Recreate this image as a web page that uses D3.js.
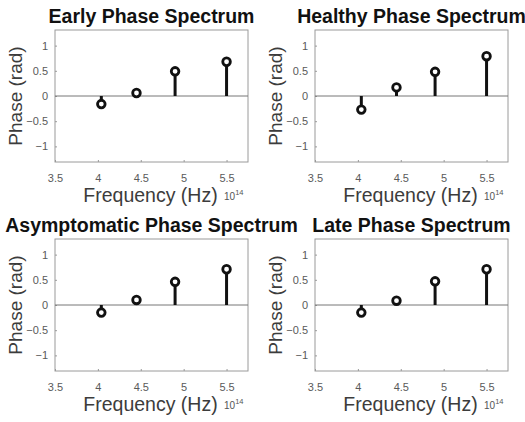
<!DOCTYPE html>
<html><head><meta charset="utf-8">
<script src="https://cdn.jsdelivr.net/npm/d3@7"></script>
<style>html,body{margin:0;padding:0;background:#fff;}svg{display:block;}</style>
</head><body>
<svg id="c" width="525" height="422"></svg>
<script>
const titles = ["Early Phase Spectrum", "Healthy Phase Spectrum", "Asymptomatic Phase Spectrum", "Late Phase Spectrum"];
const freqs = [4.04, 4.45, 4.9, 5.5]; // x 10^14 Hz
const earlyPhase = [-0.16, 0.06, 0.49, 0.68];
const healthyPhase = [-0.27, 0.17, 0.48, 0.79];
const asymptomaticPhase = [-0.15, 0.10, 0.46, 0.71];
const latePhase = [-0.15, 0.085, 0.47, 0.71];
const xTicks = [3.5, 4, 4.5, 5, 5.5];
const yTicks = [-1, -0.5, 0, 0.5, 1];
const xLabel = "Frequency (Hz)";
const yLabel = "Phase (rad)";

const series = [earlyPhase, healthyPhase, asymptomaticPhase, latePhase];
const panels = [
  {x: 55, y: 30}, {x: 315, y: 30}, {x: 55, y: 239}, {x: 315, y: 239}
];
const W = 193, H = 132;
const svg = d3.select("#c");
const font = "'Liberation Sans', Arial, sans-serif";

panels.forEach((p, i) => {
  const g = svg.append("g").attr("transform", `translate(${p.x},${p.y})`);
  const x = d3.scaleLinear().domain([3.5, 5.75]).range([0, W]);
  const y = d3.scaleLinear().domain([-1.31, 1.31]).range([H, 0]);

  // axes
  const xa = g.append("g").attr("transform", `translate(0,${H})`)
    .call(d3.axisBottom(x).tickValues(xTicks).tickSize(-2).tickPadding(12).tickFormat(d3.format("")));
  const ya = g.append("g")
    .call(d3.axisLeft(y).tickValues(yTicks).tickSize(-2).tickPadding(7).tickFormat(d => d3.format("")(d)));
  [xa, ya].forEach(a => {
    a.select(".domain").remove();
    a.selectAll("line").attr("stroke", "#999");
    a.selectAll("text").attr("fill", "#5a5a5a").style("font-family", font).style("font-size", "11px");
  });
  // box
  g.append("rect").attr("x", 0).attr("y", 0).attr("width", W).attr("height", H)
    .attr("fill", "none").attr("stroke", "#9a9a9a").attr("stroke-width", 1);
  // zero line
  g.append("line").attr("x1", 0).attr("x2", W).attr("y1", y(0)).attr("y2", y(0))
    .attr("stroke", "#777").attr("stroke-width", 1);

  const data = freqs.map((f, k) => ({f, v: series[i][k]}));
  g.selectAll(".stem").data(data).enter().append("line")
    .attr("x1", d => x(d.f)).attr("x2", d => x(d.f))
    .attr("y1", y(0)).attr("y2", d => y(d.v))
    .attr("stroke", "#111").attr("stroke-width", 3);
  g.selectAll(".mk").data(data).enter().append("circle")
    .attr("cx", d => x(d.f)).attr("cy", d => y(d.v)).attr("r", 3.8)
    .attr("fill", "#fff").attr("stroke", "#111").attr("stroke-width", 2.8);

  // title
  g.append("text").attr("x", W / 2).attr("y", -7).attr("text-anchor", "middle")
    .style("font-family", font).style("font-weight", "bold").style("font-size", "19.5px")
    .attr("fill", "#111").text(titles[i]);
  // x label
  g.append("text").attr("x", W / 2 - 1).attr("y", H + 40).attr("text-anchor", "middle")
    .style("font-family", font).style("font-size", "19.5px").attr("fill", "#3c3c3c").text(xLabel);
  // exponent
  const ex = g.append("text").attr("x", W - 24).attr("y", H + 38)
    .style("font-family", font).style("font-size", "10px").attr("fill", "#555");
  ex.append("tspan").text("10");
  ex.append("tspan").attr("dy", -5).style("font-size", "7.5px").text("14");
  // y label
  g.append("text").attr("transform", `translate(-33,${H / 2}) rotate(-90)`)
    .attr("text-anchor", "middle")
    .style("font-family", font).style("font-size", "19px").attr("fill", "#3c3c3c").text(yLabel);
});
</script>
</body></html>
